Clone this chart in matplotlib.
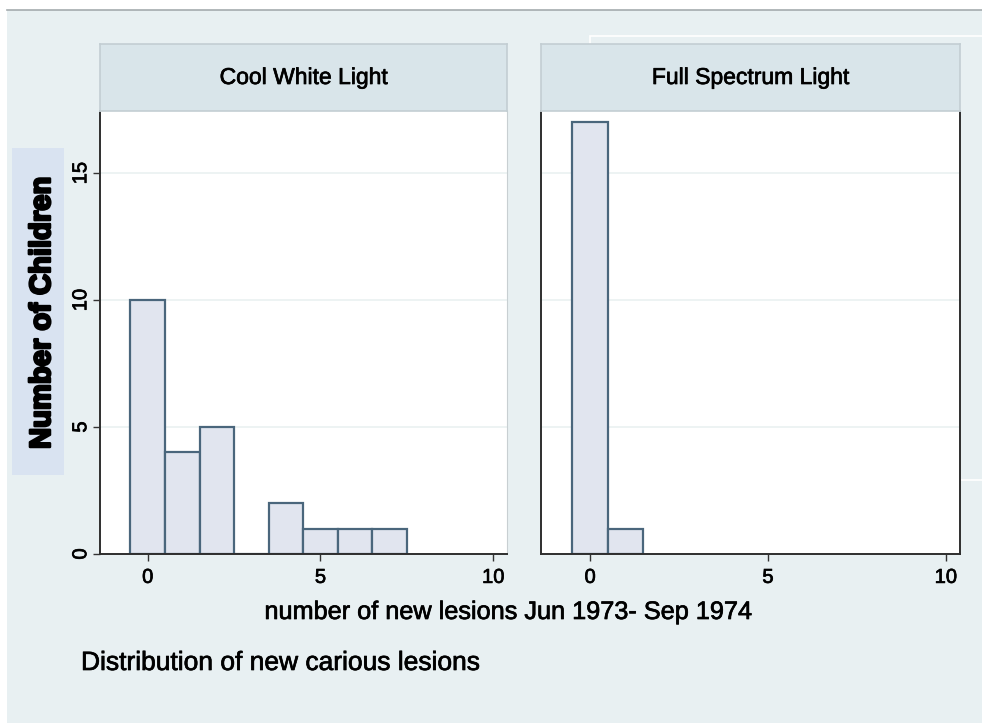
import matplotlib
matplotlib.use("Agg")
import matplotlib.pyplot as plt
import matplotlib.patheffects as pe
from matplotlib.patches import Rectangle

plt.rcParams['font.family'] = ['Liberation Sans', 'DejaVu Sans']

# histogram data: lesion count bins and number of children
lesions_cool = [0, 1, 2, 3, 4, 5, 6, 7]
children_cool = [10, 4, 5, 0, 2, 1, 1, 1]
lesions_full = [0, 1]
children_full = [17, 1]
panel_titles = ["Cool White Light", "Full Spectrum Light"]
xticks = [0, 5, 10]
yticks = [0, 5, 10, 15]

W, H = 982, 723
bg = "#E8F0F2"
head_col = "#D9E5EA"
bar_fill = "#E1E5EF"
bar_edge = "#4A667C"

fig = plt.figure(figsize=(W / 100, H / 100), dpi=100)
fig.patch.set_facecolor("white")

def fx(px):
    return px / W

def fy(py):
    return 1 - py / H

# backdrop (Stata style)
fig.patches.append(Rectangle((fx(7), 0), 1, fy(10), transform=fig.transFigure,
                             facecolor=bg, edgecolor="none", zorder=-5))
fig.lines.append(plt.Line2D([fx(7), 1], [fy(10), fy(10)], transform=fig.transFigure,
                            color="#A4ABAE", lw=1.2, zorder=-4))
fig.patches.append(Rectangle((fx(590), fy(480)), 1, (480 - 36) / H, transform=fig.transFigure,
                             facecolor="none", edgecolor="white", lw=1.2, zorder=-3))

panels = [
    (100, 507, lesions_cool, children_cool),
    (541, 960, lesions_full, children_full),
]
top, head_top, bottom = 111, 44, 554
thick = [pe.withStroke(linewidth=0.5, foreground="black")]

for i, (x0, x1, xs, ys) in enumerate(panels):
    ax = fig.add_axes([fx(x0), fy(bottom), (x1 - x0) / W, (bottom - top) / H])
    ax.set_facecolor("white")
    ax.bar(xs, ys, width=1.0, color=bar_fill, edgecolor=bar_edge, linewidth=1.6, zorder=2)
    ax.set_xlim(-1.38, 10.4)
    ax.set_ylim(0, 17.45)
    ax.set_xticks(xticks)
    ax.set_yticks(yticks)
    for v in yticks[1:]:
        ax.axhline(v, color="#EAF1F1", lw=1.2, zorder=1)
    ax.tick_params(axis="x", length=5, width=1, color="#333333", labelsize=14.5, pad=5)
    for lab in ax.get_xticklabels():
        lab.set_path_effects(thick)
    ax.spines["top"].set_visible(False)
    ax.spines["bottom"].set_color("#2E2E2E")
    ax.spines["left"].set_color("#2E2E2E")
    ax.spines["bottom"].set_linewidth(1.4)
    ax.spines["left"].set_linewidth(1.4)
    if i == 0:
        ax.spines["right"].set_color("#C8CFD2")
        ax.tick_params(axis="y", length=5, width=1, color="#333333", labelsize=14.5, pad=2)
        for lab in ax.get_yticklabels():
            lab.set_rotation(90)
            lab.set_va("center")
            lab.set_path_effects(thick)
    else:
        ax.spines["right"].set_color("#2E2E2E")
        ax.spines["right"].set_linewidth(1.4)
        ax.tick_params(axis="y", length=0, labelleft=False)

    hd = fig.add_axes([fx(x0), fy(top), (x1 - x0) / W, (top - head_top) / H])
    hd.set_facecolor(head_col)
    hd.set_xticks([])
    hd.set_yticks([])
    for s in hd.spines.values():
        s.set_color("#C3CED3")
        s.set_linewidth(1.2)
    hd.text(0.5, 0.5, panel_titles[i], ha="center", va="center", fontsize=16.5,
            transform=hd.transAxes, path_effects=thick)

# y axis title box
fig.patches.append(Rectangle((fx(12), fy(475)), (64 - 12) / W, (475 - 148) / H,
                             transform=fig.transFigure, facecolor="#D9E3F1",
                             edgecolor="none", zorder=-2))
fig.text(fx(42), fy(313), "Number of Children", rotation=90, ha="center", va="center",
         fontsize=21, fontweight="bold",
         path_effects=[pe.withStroke(linewidth=1.8, foreground="black")])

fig.text(fx(508), fy(612), "number of new lesions Jun 1973- Sep 1974",
         ha="center", va="center", fontsize=18.2, path_effects=thick)
fig.text(fx(81), fy(663), "Distribution of new carious lesions",
         ha="left", va="center", fontsize=19, path_effects=thick)

fig.savefig("out.png", dpi=100)
